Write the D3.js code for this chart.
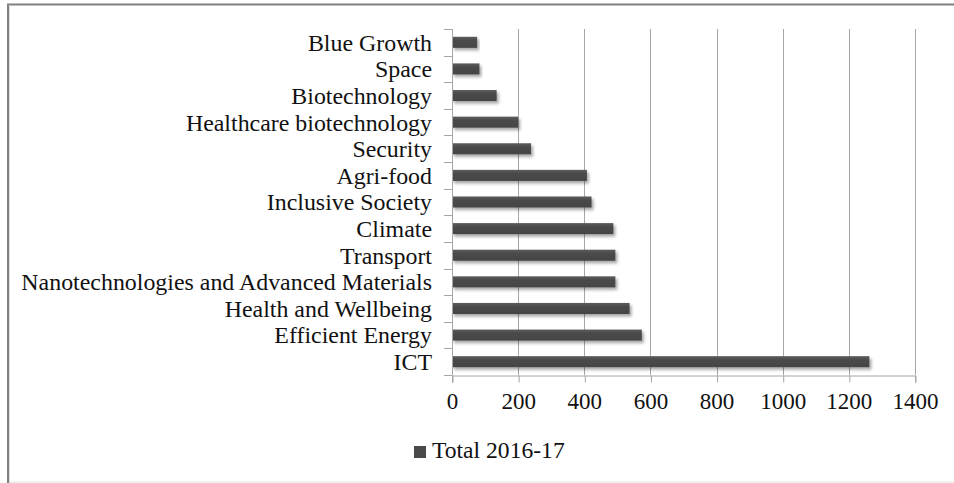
<!DOCTYPE html>
<html>
<head>
<meta charset="utf-8">
<script src="https://cdn.jsdelivr.net/npm/d3@7"></script>
<style>
  html, body { margin: 0; padding: 0; background: #fff; }
  svg { display: block; }
  text { font-family: "Liberation Serif", "Times New Roman", serif; fill: #111; }
</style>
</head>
<body>
<svg id="chart" width="954" height="483"></svg>
<script>
const categories = [
  "Blue Growth", "Space", "Biotechnology", "Healthcare biotechnology", "Security",
  "Agri-food", "Inclusive Society", "Climate", "Transport",
  "Nanotechnologies and Advanced Materials", "Health and Wellbeing",
  "Efficient Energy", "ICT"
];
const values = [76, 83, 135, 200, 239, 408, 422, 488, 494, 494, 537, 574, 1262];
const xTicks = [0, 200, 400, 600, 800, 1000, 1200, 1400];
const seriesName = "Total 2016-17";

const svg = d3.select("#chart");
const W = 954, H = 483;
const plot = { left: 452, right: 915, top: 29, bottom: 375 };

// frame
svg.append("line").attr("x1", 7).attr("x2", W).attr("y1", 4.5).attr("y2", 4.5)
  .attr("stroke", "#808080").attr("stroke-width", 2);
svg.append("line").attr("x1", 8).attr("x2", 8).attr("y1", 4).attr("y2", H)
  .attr("stroke", "#808080").attr("stroke-width", 2);
svg.append("line").attr("x1", 9.5).attr("x2", 9.5).attr("y1", 5).attr("y2", H)
  .attr("stroke", "#dedede").attr("stroke-width", 1);
svg.append("line").attr("x1", 9).attr("x2", W).attr("y1", 482).attr("y2", 482)
  .attr("stroke", "#e4e4e4").attr("stroke-width", 1);

const defs = svg.append("defs");
const f = defs.append("filter").attr("id", "shadow")
  .attr("x", "-5%").attr("y", "-50%").attr("width", "115%").attr("height", "250%");
f.append("feDropShadow").attr("dx", 2).attr("dy", 2.5).attr("stdDeviation", 1.6)
  .attr("flood-color", "#000").attr("flood-opacity", 0.35);
const g = defs.append("linearGradient").attr("id", "barGrad")
  .attr("x1", 0).attr("y1", 0).attr("x2", 0).attr("y2", 1);
g.append("stop").attr("offset", "0%").attr("stop-color", "#5c5c5c");
g.append("stop").attr("offset", "35%").attr("stop-color", "#4a4a4a");
g.append("stop").attr("offset", "100%").attr("stop-color", "#444");

const x = d3.scaleLinear().domain([0, 1400]).range([plot.left, plot.right]);
const y = d3.scaleBand().domain(categories).range([plot.top, plot.bottom]).paddingInner(0.585).paddingOuter(0.2925);
const yBoundary = d3.scaleLinear().domain([0, categories.length]).range([plot.top, plot.bottom]);

// gridlines
svg.append("g").selectAll("line").data(xTicks.filter(d => d > 0)).join("line")
  .attr("x1", d => Math.round(x(d)) + 0.5).attr("x2", d => Math.round(x(d)) + 0.5)
  .attr("y1", plot.top).attr("y2", plot.bottom)
  .attr("stroke", "#a6a6a6").attr("stroke-width", 1);

// bars
svg.append("g").selectAll("rect").data(categories).join("rect")
  .attr("x", x(0))
  .attr("y", d => y(d))
  .attr("width", (d, i) => x(values[i]) - x(0))
  .attr("height", y.bandwidth())
  .attr("fill", "url(#barGrad)")
  .attr("filter", "url(#shadow)");

// x axis
const xAxis = svg.append("g").attr("transform", `translate(0,${plot.bottom + 0.5})`)
  .call(d3.axisBottom(x).tickValues(xTicks).tickSize(7).tickPadding(10).tickFormat(d3.format("d")));
xAxis.select(".domain").attr("stroke", "#a6a6a6");
xAxis.selectAll(".tick line").attr("stroke", "#a6a6a6").attr("transform", "translate(0.5,0)");
xAxis.selectAll(".tick text").attr("font-size", 23).attr("font-family", "Liberation Serif").attr("fill", "#111");

// y axis line + boundary ticks
svg.append("line").attr("x1", plot.left + 0.5).attr("x2", plot.left + 0.5)
  .attr("y1", plot.top).attr("y2", plot.bottom + 0.5).attr("stroke", "#a6a6a6");
svg.append("g").selectAll("line").data(d3.range(categories.length + 1)).join("line")
  .attr("x1", plot.left - 8).attr("x2", plot.left)
  .attr("y1", d => Math.round(yBoundary(d)) + 0.5).attr("y2", d => Math.round(yBoundary(d)) + 0.5)
  .attr("stroke", "#a6a6a6");

// category labels
svg.append("g").selectAll("text").data(categories).join("text")
  .attr("x", plot.left - 20)
  .attr("y", d => y(d) + y.bandwidth() / 2)
  .attr("dy", "0.35em")
  .attr("text-anchor", "end")
  .attr("font-size", 23.9)
  .text(d => d);

// legend
const leg = svg.append("g").attr("transform", "translate(414,446)");
leg.append("rect").attr("width", 12).attr("height", 12).attr("fill", "#4a4a4a");
leg.append("text").attr("x", 18).attr("y", 12).attr("font-size", 23.6).text(seriesName);
</script>
</body>
</html>
